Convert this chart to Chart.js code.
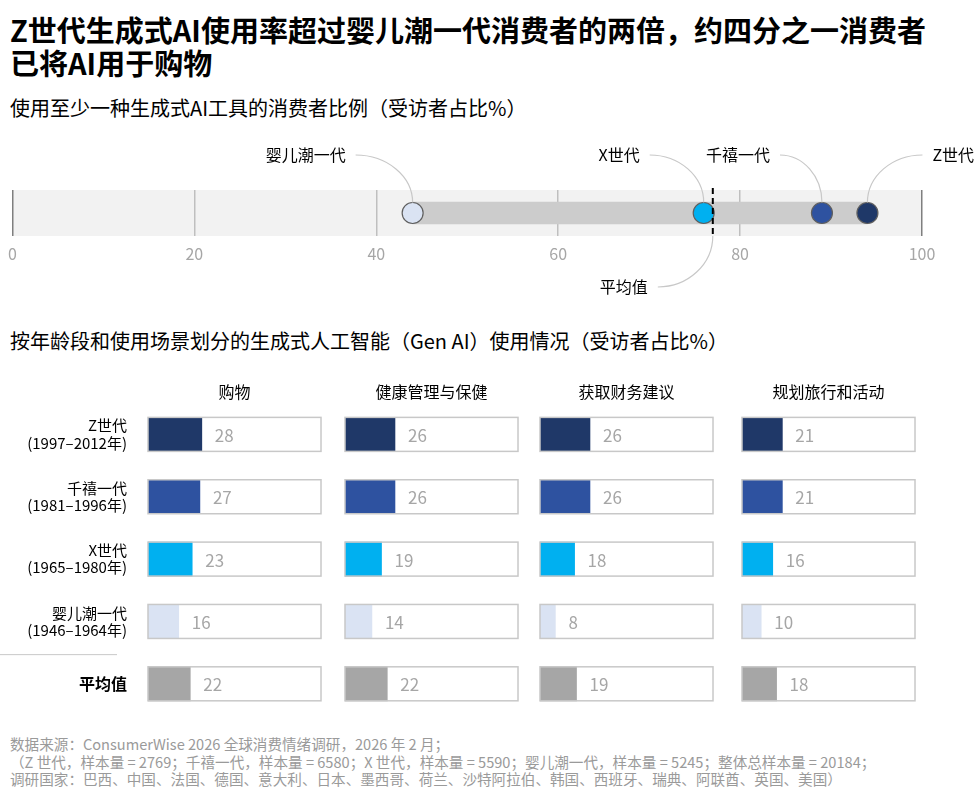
<!DOCTYPE html>
<html lang="zh-CN">
<head>
<meta charset="utf-8">
<script src="https://cdn.jsdelivr.net/npm/chart.js@4.4.1/dist/chart.umd.min.js"></script>
<style>
  body { margin: 0; width: 980px; height: 800px; background: #fff; position: relative; overflow: hidden;
         font-family: "Noto Sans CJK SC", "Noto Sans", sans-serif; color: #000; }
  h1 { position: absolute; left: 10px; top: 13px; margin: 0; font-size: 29px; line-height: 33px; font-weight: 700; width: 970px; }
  .sub { position: absolute; left: 10px; font-size: 20px; line-height: 22px; margin: 0; }
  .foot { position: absolute; left: 10px; top: 735px; font-size: 14.6px; line-height: 17.5px; color: #9a9a9a; margin: 0; white-space: nowrap; }
  .box { position: absolute; }
</style>
</head>
<body>
<h1>Z世代生成式AI使用率超过婴儿潮一代消费者的两倍，约四分之一消费者<br>已将AI用于购物</h1>
<p class="sub" style="top:97px">使用至少一种生成式AI工具的消费者比例（受访者占比%）</p>
<div class="box" style="left:0;top:130px"><canvas id="topChart" width="980" height="180"></canvas></div>
<p class="sub" style="top:330px">按年龄段和使用场景划分的生成式人工智能（Gen AI）使用情况（受访者占比%）</p>
<div class="box" style="left:0;top:370px"><canvas id="p0" width="323" height="360"></canvas></div>
<div class="box" style="left:343px;top:370px"><canvas id="p1" width="177" height="360"></canvas></div>
<div class="box" style="left:538px;top:370px"><canvas id="p2" width="177" height="360"></canvas></div>
<div class="box" style="left:740px;top:370px"><canvas id="p3" width="177" height="360"></canvas></div>
<p class="foot">数据来源：ConsumerWise 2026 全球消费情绪调研，2026 年 2 月；<br>（Z 世代，样本量 = 2769；千禧一代，样本量 = 6580；X 世代，样本量 = 5590；婴儿潮一代，样本量 = 5245；整体总样本量 = 20184；<br>调研国家：巴西、中国、法国、德国、意大利、日本、墨西哥、荷兰、沙特阿拉伯、韩国、西班牙、瑞典、阿联酋、英国、美国）</p>

<script>
const FONT = '"Noto Sans CJK SC", "Noto Sans", sans-serif';

// top: share of consumers using at least one gen AI tool
const genNames = ['婴儿潮一代', 'X世代', '千禧一代', 'Z世代'];
const genUsage = [44, 76, 89, 94];
const genColors = ['#dae3f3', '#00b0f0', '#2e52a0', '#1f3868'];
const avgUsage = 77;

// bottom: usage by age group and use case
const rowLabels = [
  ['Z世代', '(1997–2012年)'],
  ['千禧一代', '(1981–1996年)'],
  ['X世代', '(1965–1980年)'],
  ['婴儿潮一代', '(1946–1964年)'],
  '平均值'
];
const rowColors = ['#1f3868', '#2e52a0', '#00b0f0', '#dae3f3', '#a6a6a6'];
const useCases = ['购物', '健康管理与保健', '获取财务建议', '规划旅行和活动'];
const shopping = [28, 27, 23, 16, 22];
const health = [26, 26, 19, 14, 22];
const finance = [26, 26, 18, 8, 19];
const travel = [21, 21, 16, 10, 18];

Chart.defaults.font.family = FONT;

const dotPlot = {
  id: 'dotPlot',
  beforeDraw(chart) {
    const { ctx, chartArea: a } = chart;
    ctx.save();
    ctx.fillStyle = '#f2f2f2';
    ctx.fillRect(a.left, a.top, a.right - a.left, a.bottom - a.top);
    ctx.restore();
  },
  afterDatasetsDraw(chart, args, opts) {
    const { ctx, chartArea: a, scales: { x, y } } = chart;
    const cy = y.getPixelForValue(0);
    const r = 10.5;
    const ly = a.top - 35;
    ctx.save();
    ctx.font = '16px ' + FONT;
    ctx.textBaseline = 'middle';
    genNames.forEach((name, i) => {
      const px = x.getPixelForValue(genUsage[i]);
      const dir = opts.sides[i] === 'right' ? 1 : -1;
      const sx = px + dir * opts.reach[i];
      const ey = cy - r;
      ctx.strokeStyle = '#c8c8c8';
      ctx.lineWidth = 1.2;
      ctx.beginPath();
      ctx.moveTo(sx, ly);
      ctx.bezierCurveTo(sx + (px - sx) * 0.552, ly, px, ey - (ey - ly) * 0.552, px, ey);
      ctx.stroke();
      ctx.fillStyle = '#000';
      ctx.textAlign = dir > 0 ? 'left' : 'right';
      ctx.fillText(name, sx + dir * 10, ly);
    });
    // average marker
    const ax = x.getPixelForValue(avgUsage);
    ctx.setLineDash([6, 4]);
    ctx.strokeStyle = '#000';
    ctx.lineWidth = 2;
    ctx.beginPath();
    ctx.moveTo(ax, a.top - 2);
    ctx.lineTo(ax, a.bottom);
    ctx.stroke();
    ctx.setLineDash([]);
    const ay = a.bottom + 51, ex = ax - 55;
    ctx.strokeStyle = '#c8c8c8';
    ctx.lineWidth = 1.2;
    ctx.beginPath();
    ctx.moveTo(ax, a.bottom);
    ctx.bezierCurveTo(ax, a.bottom + (ay - a.bottom) * 0.552, ex + (ax - ex) * 0.552, ay, ex, ay);
    ctx.stroke();
    ctx.fillStyle = '#000';
    ctx.textAlign = 'right';
    ctx.fillText('平均值', ex - 10, ay);
    ctx.restore();
  }
};

new Chart(document.getElementById('topChart'), {
  type: 'bar',
  data: {
    labels: ['all'],
    datasets: [
      { type: 'bar', data: [[Math.min(...genUsage), Math.max(...genUsage)]], backgroundColor: '#cccccc',
        barThickness: 22, order: 2 },
      ...genNames.map((n, i) => ({
        type: 'scatter', label: n, data: [{ x: genUsage[i], y: 'all' }],
        backgroundColor: genColors[i], borderColor: '#5f5f5f',
        pointRadius: 10.5, pointBorderWidth: 1.2, order: 1
      }))
    ]
  },
  options: {
    indexAxis: 'y',
    responsive: false,
    animation: false,
    layout: { padding: { top: 60, left: 11, right: 58, bottom: 0 } },
    scales: {
      x: {
        type: 'linear', min: 0, max: 100,
        ticks: { stepSize: 20, color: '#a6a6a6', font: { size: 16 }, padding: 8 },
        grid: {
          color: c => (c.tick && (c.tick.value === 0 || c.tick.value === 100)) ? '#7f7f7f' : '#bfbfbf',
          lineWidth: 1.5, drawTicks: false
        },
        border: { display: false },
        afterFit: s => { s.height = 74; }
      },
      y: { type: 'category', display: false }
    },
    plugins: {
      legend: { display: false },
      tooltip: { enabled: false },
      dotPlot: { sides: ['left', 'left', 'left', 'right'], reach: [57, 54, 42, 55] }
    }
  },
  plugins: [dotPlot]
});

const cellBox = {
  id: 'cellBox',
  afterDatasetsDraw(chart, args, opts) {
    const { ctx, chartArea: a, scales: { y } } = chart;
    const meta = chart.getDatasetMeta(0);
    const vals = chart.data.datasets[0].data;
    ctx.save();
    meta.data.forEach((bar, i) => {
      ctx.strokeStyle = '#c8c8c8';
      ctx.lineWidth = 1.5;
      ctx.strokeRect(a.left, bar.y - bar.height / 2, a.right - a.left, bar.height);
      ctx.fillStyle = '#a6a6a6';
      ctx.font = '17px ' + FONT;
      ctx.textBaseline = 'middle';
      ctx.textAlign = 'left';
      ctx.fillText(vals[i], bar.x + 13, bar.y + 1);
    });
    if (opts.separator) {
      const sy = (y.getPixelForValue(3) + y.getPixelForValue(4)) / 2 + 2;
      ctx.strokeStyle = '#c8c8c8';
      ctx.lineWidth = 1;
      ctx.beginPath();
      ctx.moveTo(0, sy);
      ctx.lineTo(117, sy);
      ctx.stroke();
    }
    ctx.restore();
  }
};

function makePanel(id, title, values, first) {
  new Chart(document.getElementById(id), {
    type: 'bar',
    data: {
      labels: rowLabels,
      datasets: [{ data: values, backgroundColor: rowColors, barThickness: 34 }]
    },
    options: {
      indexAxis: 'y',
      responsive: false,
      animation: false,
      layout: { padding: { left: first ? 0 : 2, right: 2, top: 0, bottom: 15 } },
      scales: {
        x: { display: false, min: 0, max: 90 },
        y: {
          display: first,
          grid: { display: false, drawTicks: false },
          border: { display: false },
          ticks: {
            color: '#000',
            padding: 21,
            font: c => c.index === 4 ? { size: 16, weight: 'bold' } : { size: 15, lineHeight: 1.15 }
          },
          afterFit: first ? s => { s.width = 148; s.paddingTop = 0; s.paddingBottom = 0; } : undefined
        }
      },
      plugins: {
        legend: { display: false },
        tooltip: { enabled: false },
        title: {
          display: true, text: title, fullSize: false, color: '#000',
          font: { size: 16, weight: 'normal' }, padding: { top: 12, bottom: 2 }
        },
        cellBox: { separator: first }
      }
    },
    plugins: [cellBox]
  });
}

makePanel('p0', useCases[0], shopping, true);
makePanel('p1', useCases[1], health, false);
makePanel('p2', useCases[2], finance, false);
makePanel('p3', useCases[3], travel, false);
</script>
</body>
</html>
